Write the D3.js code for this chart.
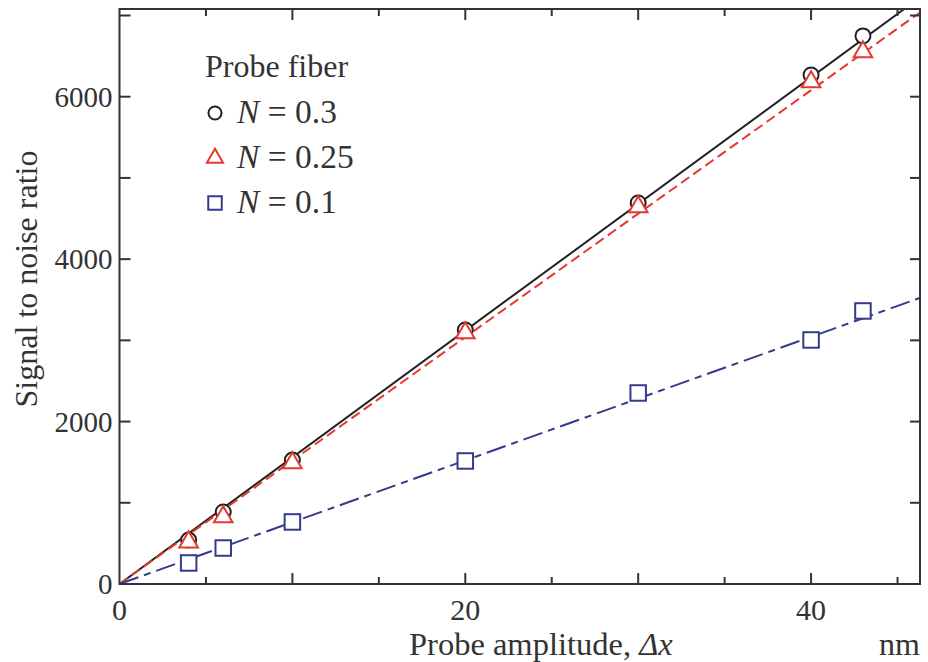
<!DOCTYPE html>
<html>
<head>
<meta charset="utf-8">
<script src="https://cdn.jsdelivr.net/npm/d3@7"></script>
<style>
  html, body { margin: 0; padding: 0; background: #fff; }
  svg { display: block; }
</style>
</head>
<body>
<svg id="chart" width="928" height="662" font-family="'Liberation Serif', 'DejaVu Serif', serif"></svg>
<script>
// Probe amplitude (nm)
const amplitude = [4, 6, 10, 20, 30, 40, 43];
// Signal-to-noise ratio for each probe fiber
const snrN030 = [542, 887, 1527, 3128, 4692, 6268, 6749];
const snrN025 = [517, 825, 1490, 3091, 4643, 6182, 6552];
const snrN010 = [259, 443, 764, 1515, 2352, 3005, 3362];
// Slopes of the linear fits through the origin (SNR per nm)
const fitSlope = [156, 152, 76.1];
const seriesNames = ["0.3", "0.25", "0.1"];
const xTickLabels = [0, 20, 40];
const yTickLabels = [0, 2000, 4000, 6000];

const W = 928, H = 662;
const m = { left: 119.5, right: 8, top: 9, bottom: 78 };
const svg = d3.select("#chart");
const FONT = "Liberation Serif";
const textColor = "#333";

const x = d3.scaleLinear().domain([0, 46.3]).range([m.left, W - m.right]);
const y = d3.scaleLinear().domain([0, 7080]).range([H - m.bottom, m.top]);

const axisColor = "#333";
const series = [
  { name: seriesNames[0], values: snrN030, slope: fitSlope[0], color: "#222", shape: "circle", dash: null },
  { name: seriesNames[1], values: snrN025, slope: fitSlope[1], color: "#e3392e", shape: "triangle", dash: "10,5" },
  { name: seriesNames[2], values: snrN010, slope: fitSlope[2], color: "#343a8c", shape: "square", dash: "20,6,7,6" }
];

function label(g, px, py, size) {
  return g.append("text").attr("x", px).attr("y", py)
    .attr("font-family", FONT).attr("font-size", size).attr("fill", textColor);
}

svg.append("defs").append("clipPath").attr("id", "plotClip")
  .append("rect")
  .attr("x", x(0)).attr("y", y(y.domain()[1]))
  .attr("width", x(x.domain()[1]) - x(0))
  .attr("height", y(0) - y(y.domain()[1]));

// Fit lines
const plot = svg.append("g").attr("clip-path", "url(#plotClip)");
series.forEach(s => {
  const xEnd = x.domain()[1];
  const line = d3.line().x(d => x(d[0])).y(d => y(d[1]));
  plot.append("path")
    .attr("d", line([[0, 0], [xEnd, s.slope * xEnd]]))
    .attr("fill", "none")
    .attr("stroke", s.color)
    .attr("stroke-width", 2)
    .attr("stroke-dasharray", s.dash);
});

// Marker drawing; k scales the marker size
function drawMarker(g, shape, cx, cy, color, k = 1) {
  if (shape === "circle") {
    g.append("circle").attr("cx", cx).attr("cy", cy).attr("r", 7.5 * k)
      .attr("fill", "#fff").attr("stroke", color).attr("stroke-width", 2);
  } else if (shape === "triangle") {
    const sym = d3.symbol().type(d3.symbolTriangle).size(150 * k * k);
    g.append("path").attr("d", sym()).attr("transform", `translate(${cx},${cy})`)
      .attr("fill", "#fff").attr("stroke", color).attr("stroke-width", 2);
  } else {
    const a = 15.5 * k;
    g.append("rect").attr("x", cx - a / 2).attr("y", cy - a / 2).attr("width", a).attr("height", a)
      .attr("fill", "#fff").attr("stroke", color).attr("stroke-width", 2);
  }
}

const marks = svg.append("g");
[series[2], series[0], series[1]].forEach(s => {
  s.values.forEach((v, i) => drawMarker(marks, s.shape, x(amplitude[i]), y(v), s.color));
});

// Frame and ticks (inward, mirrored on top and right)
const frame = svg.append("g");
frame.append("rect")
  .attr("x", x(0)).attr("y", y(y.domain()[1]))
  .attr("width", x(x.domain()[1]) - x(0))
  .attr("height", y(0) - y(y.domain()[1]))
  .attr("fill", "none").attr("stroke", axisColor).attr("stroke-width", 2);

const xTicks = d3.range(5, x.domain()[1], 5);
const yTicks = d3.range(1000, y.domain()[1], 1000);
xTicks.forEach(t => {
  const len = t % 10 === 0 ? 11 : 7;
  frame.append("line").attr("x1", x(t)).attr("x2", x(t)).attr("y1", y(0)).attr("y2", y(0) - len)
    .attr("stroke", axisColor).attr("stroke-width", 2);
  frame.append("line").attr("x1", x(t)).attr("x2", x(t)).attr("y1", y(y.domain()[1])).attr("y2", y(y.domain()[1]) + len)
    .attr("stroke", axisColor).attr("stroke-width", 2);
});
yTicks.forEach(t => {
  frame.append("line").attr("x1", x(0)).attr("x2", x(0) + 11).attr("y1", y(t)).attr("y2", y(t))
    .attr("stroke", axisColor).attr("stroke-width", 2);
  frame.append("line").attr("x1", x(x.domain()[1])).attr("x2", x(x.domain()[1]) - 10).attr("y1", y(t)).attr("y2", y(t))
    .attr("stroke", axisColor).attr("stroke-width", 2);
});

// Tick labels
const tl = svg.append("g");
xTickLabels.forEach(d => label(tl, x(d), 620, 30).attr("text-anchor", "middle").text(d));
yTickLabels.forEach(d => label(tl, x(0) - 7, y(d) + 10, 29).attr("text-anchor", "end").text(d));

// Axis titles
label(svg, 0, 0, 32)
  .attr("transform", `translate(37,279) rotate(-90)`)
  .attr("text-anchor", "middle")
  .text("Signal to noise ratio");

const xt = label(svg, 409, 655, 32.5);
xt.append("tspan").text("Probe amplitude, ");
xt.append("tspan").attr("font-style", "italic").text("Δx");
label(svg, 879, 655, 32).text("nm");

// Legend
const lg = svg.append("g");
label(lg, 205, 77, 32).text("Probe fiber");
series.forEach((s, i) => {
  const cy = 113 + i * 45;
  drawMarker(lg, s.shape, 215, cy, s.color, 0.87);
  const t = label(lg, 237, cy + 10, 33.5);
  t.append("tspan").attr("font-style", "italic").text("N");
  t.append("tspan").text(" = " + s.name);
});
</script>
</body>
</html>
